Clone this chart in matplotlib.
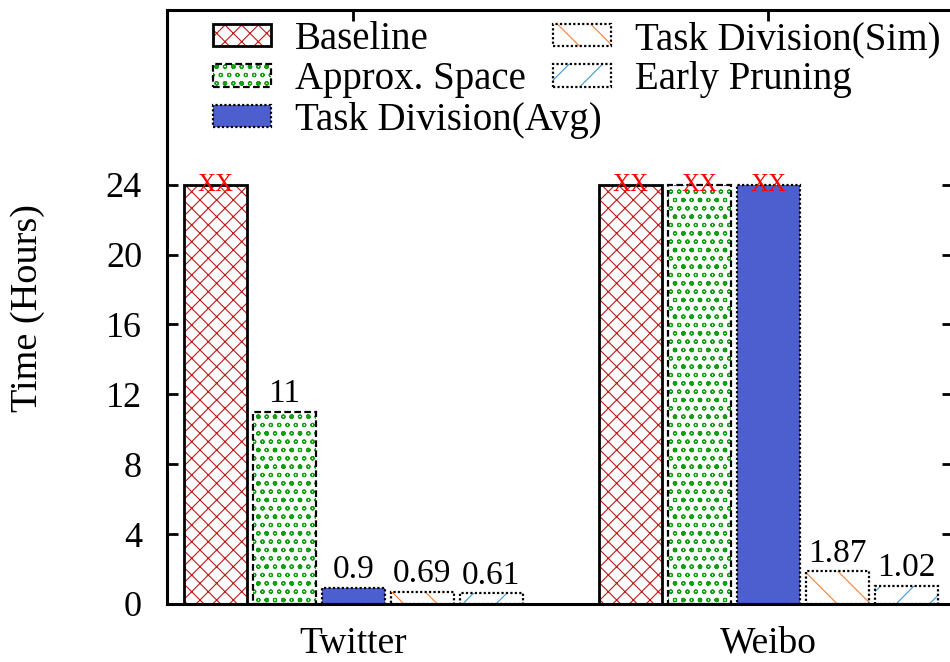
import matplotlib
matplotlib.use("Agg")
import matplotlib.pyplot as plt
import numpy as np

datasets = ["Twitter", "Weibo"]
methods = ["Baseline", "Approx. Space", "Task Division(Avg)", "Task Division(Sim)", "Early Pruning"]

# hours; 24 = timed out, shown as "XX"
baseline = [24, 24]
approx_space = [11, 24]
division_avg = [0.9, 24]
division_sim = [0.69, 1.87]
early_pruning = [0.61, 1.02]

baseline_labels = ["XX", "XX"]
approx_labels = ["11", "XX"]
avg_labels = ["0.9", "XX"]
sim_labels = ["0.69", "1.87"]
pruning_labels = ["0.61", "1.02"]

yticks = [0, 4, 8, 12, 16, 20, 24]

series = [baseline, approx_space, division_avg, division_sim, early_pruning]
labels = [baseline_labels, approx_labels, avg_labels, sim_labels, pruning_labels]
# (face, hatch, hatch colour, edge linestyle)
styles = [
    ("white", "xx", "#c01818", "solid"),
    ("white", "oo.", "#10a010", (0, (3, 1.5))),
    ("#4d5fcf", None, "#4d5fcf", (0, (1, 1))),
    ("white", "\\", "#ff7f2a", (0, (1, 1))),
    ("white", "/", "#3a9ad9", (0, (1, 1))),
]

plt.rcParams["font.family"] = ["Liberation Serif", "DejaVu Serif"]
plt.rcParams["hatch.linewidth"] = 0.8

fig = plt.figure(figsize=(9.5, 6.62), dpi=100)
ax = fig.add_axes([167 / 950, 1 - 604 / 662, (953 - 167) / 950, (604 - 10) / 662])
ax.set_axisbelow(True)

x = np.arange(len(datasets))
step = 0.1663
width = 0.152
handles = []
for i, (values, texts, (face, hatch, hcolor, ls)) in enumerate(zip(series, labels, styles)):
    pos = x + (i - 2) * step
    fill = ax.bar(pos, values, width, color=face, edgecolor=hcolor, hatch=hatch, linewidth=0)
    edge = ax.bar(pos, values, width, fill=False, edgecolor="black", linestyle=ls,
                  linewidth=2.0 if ls == "solid" else 1.6)
    handles.append((fill.patches[0], edge.patches[0]))
    for p, v, t in zip(pos, values, texts):
        if t == "XX":
            ax.text(p, v, t, color="red", ha="center", va="center", fontsize=18)
        else:
            ax.annotate(t, (p, v), xytext=(0, 2), textcoords="offset points",
                        ha="center", va="bottom", fontsize=24)

ax.set_xlim(-0.449, 1.4446)
ax.set_ylim(0, 34)
ax.set_xticks(x, datasets, fontsize=27)
ax.set_yticks(yticks, [str(v) for v in yticks], fontsize=26)
ax.tick_params(axis="x", direction="in", length=8, width=2, top=True, pad=16)
ax.tick_params(axis="y", direction="in", length=8, width=2, right=True, pad=18)
for side in ax.spines.values():
    side.set_linewidth(2.2)

ax.set_ylabel("Time (Hours)", fontsize=27.5)
ax.yaxis.set_label_coords((45 - 167) / 786, 0.498)

ax.legend(handles, methods, ncol=2, loc="upper left",
          bbox_to_anchor=(213 / 950, 1 - 21 / 662), bbox_transform=fig.transFigure,
          frameon=False, fontsize=28, handlelength=1.49, handleheight=0.51,
          handletextpad=0.62, columnspacing=-1.26, labelspacing=0.085,
          borderpad=0, borderaxespad=0)

fig.savefig("out.png", dpi=100)
